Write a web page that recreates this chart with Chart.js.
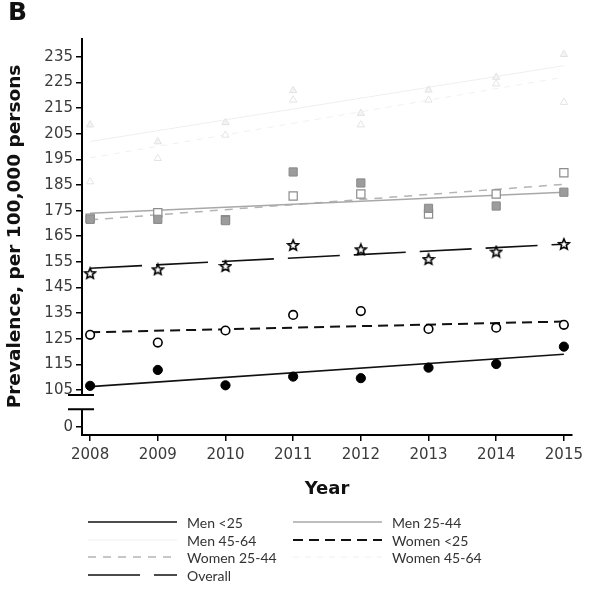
<!DOCTYPE html>
<html lang="en">
<head>
  <meta charset="UTF-8" />
  <title>Prevalence per 100,000 persons, 2008-2015</title>
  <script src="https://cdn.jsdelivr.net/npm/chart.js@4.4.8/dist/chart.umd.min.js"></script>
  <style>
    body { margin: 0; background: #fff; }
    #wrap { position: relative; width: 594px; height: 600px; }
    #panel { position: absolute; left: 8px; top: -3px; font: bold 25px 'DejaVu Sans', sans-serif; color: #111; }
    .lg-item { position: absolute; height: 18px; display: flex; align-items: center; font: 14px Lato, sans-serif; color: #333; white-space: nowrap; }
    .lg-item svg { margin-right: 10px; }
  </style>
</head>
<body>
  <div id="wrap">
    <canvas id="chart" width="594" height="600"></canvas>
    <div id="panel">B</div>
    <div id="legend"></div>
  </div>

  <script>
    // values
    const years = [2008, 2009, 2010, 2011, 2012, 2013, 2014, 2015];
    const yTickLabels = [0, 105, 115, 125, 135, 145, 155, 165, 175, 185, 195, 205, 215, 225, 235];

    const menUnder25   = [106.6, 112.8, 106.8, 110.2, 109.6, 113.7, 115.1, 121.9];
    const womenUnder25 = [126.5, 123.5, 128.2, 134.3, 135.8, 128.8, 129.3, 130.4];
    const overall      = [150.6, 152.1, 153.4, 161.6, 159.9, 156.1, 159.0, 162.0];
    const men25to44    = [171.6, 171.6, 171.1, 190.1, 185.8, 175.9, 176.8, 182.2];
    const women25to44  = [172.0, 174.2, 171.5, 180.7, 181.5, 173.7, 181.5, 189.8];
    const men45to64    = [208.5, 201.9, 209.4, 221.9, 213.0, 222.1, 227.1, 236.0];
    const women45to64  = [186.3, 195.4, 204.5, 218.2, 208.5, 218.2, 224.5, 217.3];

    // fitted trend lines: value at 2008 and at 2015
    const trendMenUnder25   = [106.3, 118.9];
    const trendWomenUnder25 = [127.5, 131.7];
    const trendOverall      = [152.5, 161.9];
    const trendMen25to44    = [174.0, 182.2];
    const trendWomen25to44  = [171.4, 185.3];
    const trendMen45to64    = [202.0, 231.6];
    const trendWomen45to64  = [195.6, 227.1];

    // broken axis: "0" is drawn just below the break
    const ZERO_AT = 90.6;
    const BREAK_HI = 103.0;
    const BREAK_LO = 97.5;

    function makeStar() {
      const c = document.createElement('canvas');
      c.width = 14; c.height = 14;
      const g = c.getContext('2d');
      g.beginPath();
      for (let i = 0; i < 10; i++) {
        const r = i % 2 ? 2.5 : 5.6;
        const a = -Math.PI / 2 + i * Math.PI / 5;
        const px = 7 + r * Math.cos(a), py = 7.6 + r * Math.sin(a);
        if (i) g.lineTo(px, py); else g.moveTo(px, py);
      }
      g.closePath();
      g.fillStyle = '#fff';
      g.fill();
      g.lineWidth = 1.6;
      g.strokeStyle = '#000';
      g.stroke();
      return c;
    }

    const series = [
      { label: 'Men <25', values: menUnder25, trend: trendMenUnder25,
        line: { color: '#111', width: 1.6, dash: [] },
        point: { style: 'circle', r: 4.6, bg: '#000', border: '#000', bw: 1 } },
      { label: 'Men 25-44', values: men25to44, trend: trendMen25to44,
        line: { color: '#a8a8a8', width: 1.5, dash: [] },
        point: { style: 'rect', r: 5.8, bg: '#9c9c9c', border: '#8a8a8a', bw: 1 } },
      { label: 'Men 45-64', values: men45to64, trend: trendMen45to64,
        line: { color: '#efefef', width: 1, dash: [] },
        point: { style: 'triangle', r: 4.2, bg: '#f4f4f4', border: '#e2e2e2', bw: 1 } },
      { label: 'Women <25', values: womenUnder25, trend: trendWomenUnder25,
        line: { color: '#111', width: 2, dash: [10, 6] },
        point: { style: 'circle', r: 4.3, bg: '#fff', border: '#000', bw: 1.6 } },
      { label: 'Women 25-44', values: women25to44, trend: trendWomen25to44,
        line: { color: '#b4b4b4', width: 1.5, dash: [8, 7] },
        point: { style: 'rect', r: 5.8, bg: '#fff', border: '#8c8c8c', bw: 1.2 } },
      { label: 'Women 45-64', values: women45to64, trend: trendWomen45to64,
        line: { color: '#f0f0f0', width: 1, dash: [6, 6] },
        point: { style: 'triangle', r: 4.2, bg: '#fff', border: '#e4e4e4', bw: 1 } },
      { label: 'Overall', values: overall, trend: trendOverall,
        line: { color: '#111', width: 1.6, dash: [52, 14] },
        point: { style: makeStar(), r: 6, bg: '#fff', border: '#000', bw: 1.5 } }
    ];

    const datasets = [];
    series.forEach(s => {
      datasets.push({
        type: 'line',
        label: s.label + ' trend',
        data: [{ x: years[0], y: s.trend[0] }, { x: years[years.length - 1], y: s.trend[1] }],
        borderColor: s.line.color,
        borderWidth: s.line.width,
        borderDash: s.line.dash,
        pointRadius: 0,
        fill: false,
        order: 2
      });
      datasets.push({
        type: 'scatter',
        label: s.label,
        data: s.values.map((v, i) => ({ x: years[i], y: v })),
        pointStyle: s.point.style,
        pointRadius: s.point.r,
        backgroundColor: s.point.bg,
        borderColor: s.point.border,
        borderWidth: s.point.bw,
        order: 1
      });
    });

    const axisBreak = {
      id: 'axisBreak',
      afterDraw(chart) {
        const { ctx, chartArea, scales: { y } } = chart;
        const x0 = chartArea.left;
        const yA = y.getPixelForValue(BREAK_HI);
        const yB = y.getPixelForValue(BREAK_LO);
        ctx.save();
        ctx.strokeStyle = '#000';
        ctx.lineWidth = 2;
        ctx.beginPath();
        ctx.moveTo(x0, chartArea.top);
        ctx.lineTo(x0, yA);
        ctx.moveTo(x0, yB);
        ctx.lineTo(x0, chartArea.bottom + 1);
        ctx.moveTo(x0 - 14, yA); ctx.lineTo(x0 + 12, yA);
        ctx.moveTo(x0 - 14, yB); ctx.lineTo(x0 + 12, yB);
        ctx.stroke();
        ctx.restore();
      }
    };

    const tickFont = { family: 'DejaVu Sans', size: 15 };

    new Chart(document.getElementById('chart'), {
      data: { datasets },
      options: {
        responsive: false,
        animation: false,
        devicePixelRatio: 1,
        layout: { padding: { top: 38, right: 22, bottom: 99, left: 0 } },
        plugins: { legend: { display: false }, tooltip: { enabled: false } },
        scales: {
          x: {
            type: 'linear',
            min: 2007.88,
            max: 2015.12,
            afterBuildTicks: s => { s.ticks = years.map(v => ({ value: v })); },
            afterFit: s => { s.height = 66; },
            ticks: { callback: v => String(v), font: tickFont, color: '#3a3a3a', padding: 5, maxRotation: 0, autoSkip: false },
            grid: { drawOnChartArea: false, drawTicks: true, tickLength: 6, color: '#000', lineWidth: 1.5 },
            border: { display: true, color: '#000', width: 2 },
            title: { display: true, text: 'Year', color: '#111',
              font: { family: 'DejaVu Sans', size: 18, weight: 'bold' }, padding: { top: 4, bottom: 1 } }
          },
          y: {
            type: 'linear',
            min: 87.4,
            max: 242.4,
            afterBuildTicks: s => { s.ticks = yTickLabels.map(v => ({ value: v === 0 ? ZERO_AT : v })); },
            afterFit: s => { s.width = 82; },
            ticks: { callback: (v, i) => String(yTickLabels[i]), font: tickFont, color: '#3a3a3a', padding: 3, autoSkip: false },
            grid: { drawOnChartArea: false, drawTicks: true, tickLength: 6, color: '#000', lineWidth: 1.5 },
            border: { display: false },
            title: { display: true, text: 'Prevalence, per 100,000 persons', color: '#111',
              font: { family: 'DejaVu Sans', size: 18.5, weight: 'bold' }, padding: { top: 4, bottom: 4 } }
          }
        }
      },
      plugins: [axisBreak]
    });

    // legend, two columns, row by row
    const legendEl = document.getElementById('legend');
    const colX = [88, 293];
    const rowY = [522, 540, 557, 575];
    series.forEach((s, i) => {
      const item = document.createElement('div');
      item.className = 'lg-item';
      item.style.left = colX[i % 2] + 'px';
      item.style.top = (rowY[Math.floor(i / 2)] - 9) + 'px';
      const ns = 'http://www.w3.org/2000/svg';
      const svg = document.createElementNS(ns, 'svg');
      svg.setAttribute('width', '89');
      svg.setAttribute('height', '18');
      const ln = document.createElementNS(ns, 'line');
      ln.setAttribute('x1', '0'); ln.setAttribute('x2', '89');
      ln.setAttribute('y1', '9'); ln.setAttribute('y2', '9');
      ln.setAttribute('stroke', s.line.color);
      ln.setAttribute('stroke-width', s.line.width);
      if (s.line.dash.length) ln.setAttribute('stroke-dasharray', s.line.dash.join(' '));
      svg.appendChild(ln);
      item.appendChild(svg);
      const txt = document.createElement('span');
      txt.textContent = s.label;
      item.appendChild(txt);
      legendEl.appendChild(item);
    });
  </script>
</body>
</html>
